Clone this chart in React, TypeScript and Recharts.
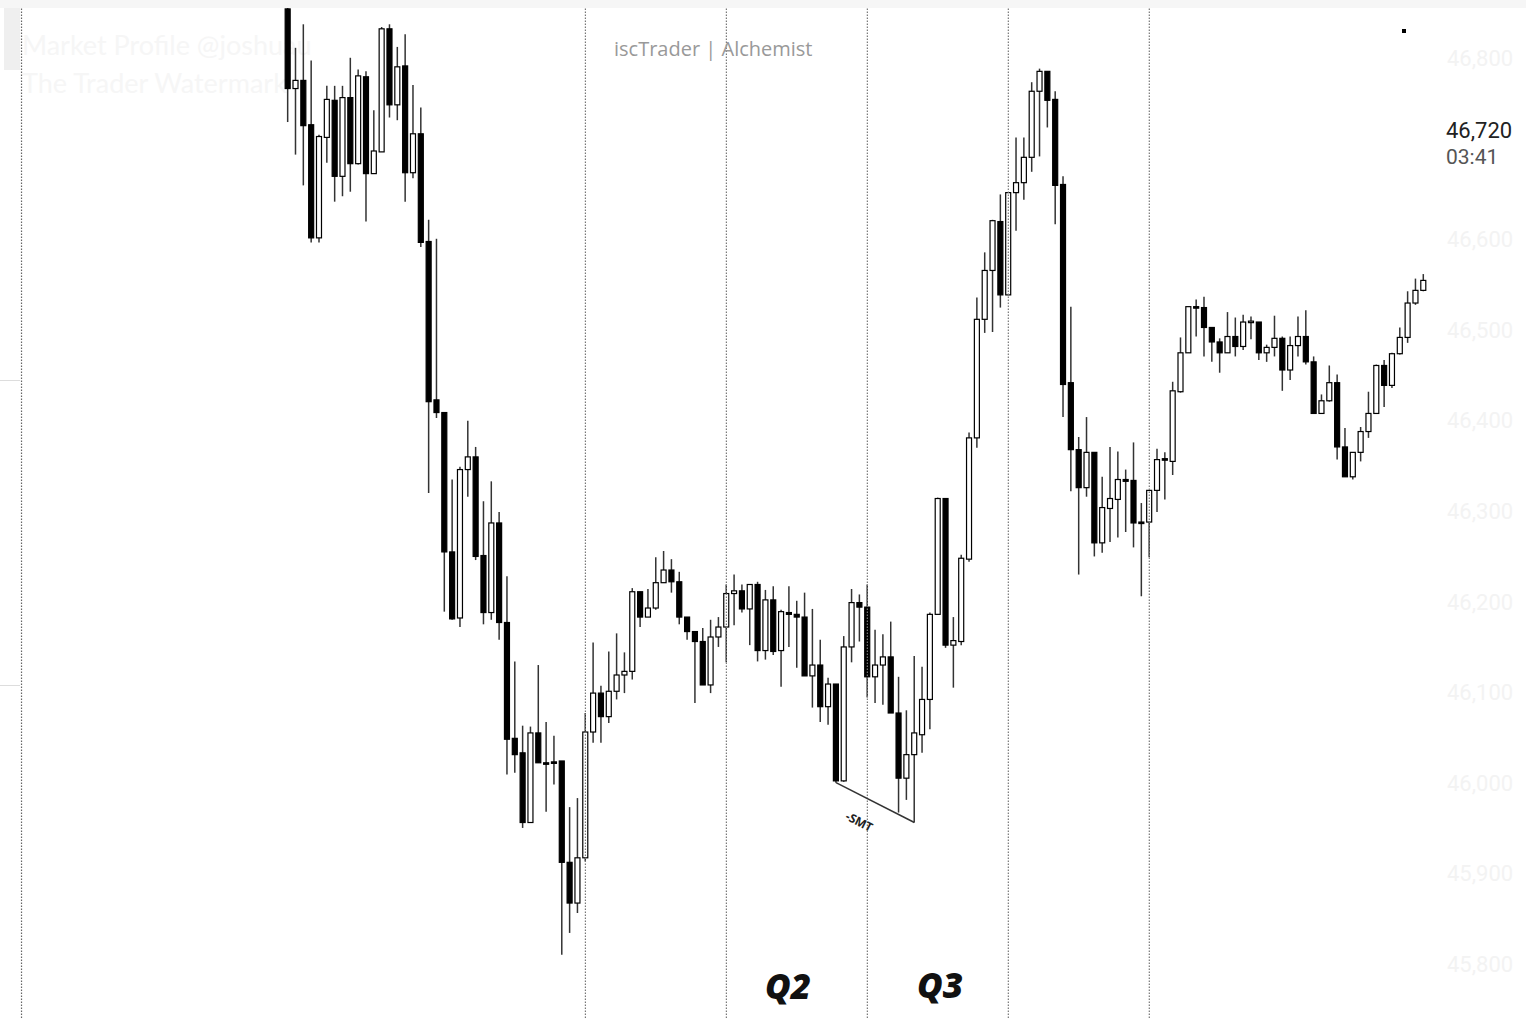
import React from 'react'
import { ComposedChart, Bar, XAxis, YAxis, ReferenceLine } from 'recharts'

// OHLC per candle (146 candles)
const opens = [
  46855, 46767, 46776, 46727, 46602, 46713, 46754, 46670, 46757, 46684, 46780, 46673, 46697, 46833, 46749, 46792, 46674, 46717,
  46598, 46423, 46409, 46255, 46182, 46346, 46360, 46251, 46188, 46287, 46177, 46049, 46033, 45956, 46055, 46022, 46023, 46024,
  45912, 45867, 45917, 46056, 46099, 46073, 46101, 46119, 46123, 46211, 46183, 46193, 46221, 46235, 46222, 46183, 46167, 46156,
  46108, 46161, 46172, 46209, 46212, 46192, 46219, 46146, 46202, 46146, 46188, 46186, 46183, 46118, 46130, 46084, 46109, 46002,
  46150, 46199, 46194, 46117, 46130, 46139, 46077, 46005, 46031, 46053, 46092, 46186, 46314, 46152, 46156, 46247, 46381, 46512,
  46566, 46620, 46539, 46652, 46663, 46691, 46764, 46786, 46755, 46661, 46442, 46368, 46326, 46365, 46265, 46303, 46313, 46335,
  46334, 46288, 46288, 46323, 46358, 46355, 46432, 46475, 46526, 46525, 46503, 46487, 46475, 46493, 46482, 46509, 46509, 46475,
  46481, 46491, 46456, 46483, 46493, 46465, 46408, 46422, 46442, 46371, 46338, 46365, 46388, 46408, 46461, 46439, 46474, 46492,
  46530, 46544,
]
const highs = [
  46856, 46812, 46838, 46798, 46716, 46770, 46770, 46770, 46801, 46788, 46786, 46743, 46835, 46838, 46813, 46827, 46771, 46746,
  46622, 46601, 46409, 46335, 46349, 46400, 46371, 46311, 46333, 46299, 46228, 46134, 46063, 46062, 46130, 46067, 46052, 46024,
  45973, 45983, 46077, 46155, 46107, 46145, 46165, 46144, 46215, 46211, 46214, 46249, 46256, 46247, 46233, 46183, 46167, 46171,
  46180, 46183, 46219, 46230, 46219, 46219, 46222, 46213, 46217, 46191, 46217, 46201, 46210, 46192, 46158, 46116, 46109, 46162,
  46214, 46208, 46219, 46169, 46164, 46178, 46117, 46080, 46140, 46128, 46188, 46315, 46314, 46183, 46252, 46387, 46536, 46586,
  46622, 46650, 46652, 46713, 46713, 46774, 46789, 46786, 46764, 46670, 46526, 46382, 46404, 46365, 46338, 46371, 46366, 46346,
  46376, 46309, 46323, 46369, 46365, 46443, 46492, 46526, 46534, 46537, 46503, 46491, 46520, 46514, 46517, 46515, 46509, 46484,
  46516, 46493, 46493, 46515, 46522, 46471, 46429, 46461, 46451, 46392, 46365, 46393, 46432, 46462, 46467, 46475, 46503, 46543,
  46557, 46562,
]
const lows = [
  46730, 46694, 46660, 46597, 46597, 46685, 46642, 46648, 46653, 46683, 46620, 46673, 46697, 46735, 46732, 46642, 46668, 46592,
  46320, 46403, 46189, 46180, 46172, 46316, 46246, 46175, 46180, 46158, 46009, 46011, 45950, 45956, 46022, 45968, 45998, 45810,
  45834, 45856, 45913, 46044, 46044, 46066, 46092, 46099, 46114, 46172, 46183, 46191, 46221, 46210, 46175, 46158, 46088, 46108,
  46099, 46150, 46133, 46174, 46188, 46152, 46134, 46136, 46141, 46106, 46150, 46127, 46118, 46083, 46067, 46064, 46000, 46001,
  46133, 46156, 46094, 46088, 46086, 46077, 45967, 45981, 45956, 46033, 46059, 46186, 46149, 46105, 46152, 46244, 46370, 46497,
  46498, 46525, 46539, 46610, 46644, 46675, 46692, 46724, 46617, 46404, 46322, 46230, 46316, 46250, 46254, 46266, 46271, 46277,
  46260, 46206, 46249, 46299, 46313, 46340, 46431, 46475, 46493, 46471, 46465, 46453, 46475, 46471, 46478, 46490, 46467, 46465,
  46471, 46433, 46445, 46471, 46462, 46408, 46408, 46421, 46357, 46338, 46335, 46355, 46381, 46408, 46415, 46436, 46473, 46486,
  46528, 46543,
]
const closes = [
  46767, 46776, 46726, 46602, 46714, 46755, 46670, 46757, 46684, 46781, 46673, 46698, 46833, 46749, 46791, 46674, 46717, 46597,
  46421, 46409, 46255, 46181, 46346, 46360, 46250, 46188, 46287, 46177, 46048, 46031, 45956, 46055, 46022, 46021, 46022, 45912,
  45867, 45917, 46056, 46099, 46073, 46101, 46119, 46123, 46211, 46183, 46193, 46221, 46235, 46222, 46183, 46167, 46156, 46108,
  46161, 46172, 46209, 46212, 46192, 46219, 46146, 46202, 46145, 46189, 46186, 46183, 46118, 46130, 46084, 46109, 46002, 46150,
  46199, 46194, 46117, 46130, 46139, 46077, 46005, 46031, 46055, 46092, 46186, 46314, 46152, 46157, 46248, 46381, 46512, 46566,
  46621, 46539, 46652, 46663, 46691, 46764, 46786, 46754, 46660, 46440, 46368, 46326, 46365, 46265, 46304, 46314, 46335, 46333,
  46287, 46287, 46323, 46357, 46357, 46433, 46475, 46526, 46525, 46503, 46487, 46475, 46493, 46482, 46509, 46510, 46475, 46481,
  46491, 46456, 46483, 46493, 46465, 46408, 46422, 46442, 46371, 46338, 46365, 46388, 46408, 46461, 46439, 46474, 46492, 46530,
  46544, 46555,
]

const visibleTicks = [45800, 45900, 46000, 46100, 46200, 46300, 46400, 46500, 46600, 46800]
// candle indexes where the session separators fall
const sessionCandles = [38, 56, 74, 92, 110]
const smtFrom = { candle: 70, price: 46000 }
const smtTo = { candle: 80, price: 45956 }

const LEAD = 34
const TRAIL = 2

const key = (i: number) => String(i + LEAD)

const rows: any[] = []
for (let j = 0; j < LEAD; j++) rows.push({ k: String(j) })
opens.forEach((o, i) => {
  rows.push({ k: key(i), open: o, high: highs[i], low: lows[i], close: closes[i] })
})
for (let j = 0; j < TRAIL; j++) rows.push({ k: String(LEAD + opens.length + j) })

const Candle = (props: any) => {
  const { x, y, width, height, payload } = props
  if (!payload || payload.open == null) return null
  const { open, close, high, low } = payload
  const top = Math.min(y, y + height)
  const h = Math.abs(height)
  const ratio = h / Math.max(high - low, 1)
  const cx = x + width / 2
  const yO = top + (high - open) * ratio
  const yC = top + (high - close) * ratio
  const up = close >= open
  const bTop = Math.min(yO, yC)
  const bH = Math.max(Math.abs(yO - yC), 1.5)
  const bw = 5
  return (
    <g>
      <line x1={cx} x2={cx} y1={top} y2={top + h} stroke="#333" strokeWidth={1.5} />
      <rect x={cx - bw / 2} y={bTop} width={bw} height={bH} fill={up ? '#fff' : '#000'} stroke="#000" strokeWidth={1.2} />
    </g>
  )
}

const txt = (style: React.CSSProperties): React.CSSProperties => ({ position: 'absolute', whiteSpace: 'nowrap', lineHeight: 1, ...style })

export default function App() {
  return (
    <div style={{ position: 'absolute', left: 0, top: 0, width: 1526, height: 1018, background: '#fff', overflow: 'hidden', fontFamily: 'Lato, sans-serif' }}>
      <div style={{ position: 'absolute', left: 0, top: 0, width: 1526, height: 8, background: '#f6f6f6' }} />
      <div style={{ position: 'absolute', left: 4, top: 8, width: 16, height: 62, background: '#efefef' }} />
      <div style={{ position: 'absolute', left: 0, top: 380, width: 20, height: 1, background: '#ddd' }} />
      <div style={{ position: 'absolute', left: 0, top: 685, width: 20, height: 1, background: '#ddd' }} />
      <div style={txt({ left: 22, top: 31, fontSize: 27, color: '#f6f6f6' })}>Market Profile @joshuau</div>
      <div style={txt({ left: 22, top: 69, fontSize: 27, color: '#f6f6f6' })}>The Trader Watermark</div>
      <ComposedChart width={1526} height={1018} data={rows} margin={{ top: 8, right: 0, bottom: 0, left: 17.6 }} style={{ position: 'absolute', left: 0, top: 0 }}>
        <XAxis dataKey="k" hide />
        <YAxis
          orientation="right"
          width={83}
          domain={[45740, 46856]}
          allowDataOverflow
          ticks={visibleTicks}
          tickFormatter={(v: number) => v.toLocaleString('en-US')}
          axisLine={false}
          tickLine={false}
          tickSize={0}
          tickMargin={4}
          tick={{ fill: '#f3f3f3', fontSize: 22, fontFamily: 'Roboto, sans-serif' }}
        />
        <ReferenceLine x="0" stroke="#666" strokeDasharray="1.5 1.5" strokeWidth={1.2} />
        <Bar dataKey={(d: any) => (d.open == null ? null : [d.low, d.high])} shape={<Candle />} isAnimationActive={false} />
        {sessionCandles.map(c => (
          <ReferenceLine key={c} x={key(c)} stroke="#777" strokeDasharray="1.5 1.5" strokeWidth={1.2} />
        ))}
        <ReferenceLine
          segment={[{ x: key(smtFrom.candle), y: smtFrom.price }, { x: key(smtTo.candle), y: smtTo.price }]}
          stroke="#333"
          strokeWidth={1.5}
        />
      </ComposedChart>
      <div style={txt({ left: 614, top: 39, fontSize: 20, color: '#999', fontFamily: 'Open Sans, sans-serif' })}>iscTrader | Alchemist</div>
      <div style={txt({ left: 1446, top: 120, fontSize: 22, color: '#222', fontFamily: 'Roboto, sans-serif' })}>46,720</div>
      <div style={txt({ left: 1446, top: 147, fontSize: 21, color: '#555', fontFamily: 'Roboto, sans-serif' })}>03:41</div>
      <div style={{ position: 'absolute', left: 1402, top: 29, width: 4, height: 4, background: '#000' }} />
      <div style={txt({ left: 849, top: 810, fontSize: 12, fontWeight: 700, color: '#222', fontFamily: 'Open Sans, sans-serif', transform: 'rotate(27deg)', transformOrigin: 'left top' })}>-SMT</div>
      <div style={txt({ left: 765, top: 968, fontSize: 35, fontWeight: 800, fontStyle: 'italic', color: '#111', fontFamily: 'Open Sans, sans-serif' })}>Q2</div>
      <div style={txt({ left: 917, top: 967, fontSize: 35, fontWeight: 800, fontStyle: 'italic', color: '#111', fontFamily: 'Open Sans, sans-serif' })}>Q3</div>
    </div>
  )
}
